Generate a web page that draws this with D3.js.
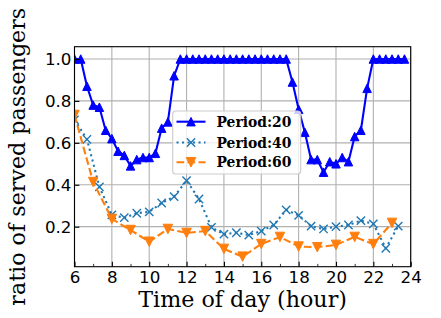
<!DOCTYPE html>
<html><head><meta charset="utf-8">
<script src="https://cdn.jsdelivr.net/npm/d3@7"></script>
<style>body{margin:0;background:#fff}svg{display:block}</style>
</head><body><div id="chart"></div>
<script>
const hours20 = [6,6.333,6.667,7,7.333,7.667,8,8.333,8.667,9,9.333,9.667,10,10.333,10.667,11,11.333,11.667,
  12,12.333,12.667,13,13.333,13.667,14,14.333,14.667,15,15.333,15.667,16,16.333,16.667,17,17.333,
  17.667,18,18.333,18.667,19,19.333,19.667,20,20.333,20.667,21,21.333,21.667,22,22.333,22.667,23,23.333,23.667];
const period20 = [1.0,1.0,0.87,0.78,0.77,0.66,0.62,0.56,0.54,0.49,0.52,0.53,0.53,0.55,0.67,0.70,0.92,1.0,
  1.0,1.0,1.0,1.0,1.0,1.0,1.0,1.0,1.0,1.0,1.0,1.0,1.0,1.0,1.0,1.0,1.0,
  0.89,0.76,0.65,0.52,0.52,0.46,0.51,0.50,0.53,0.51,0.63,0.66,0.86,1.0,1.0,1.0,1.0,1.0,1.0];
const hours40 = [6,6.667,7.333,8,8.667,9.333,10,10.667,11.333,12,12.667,13.333,14,14.667,15.333,16,16.667,17.333,
  18,18.667,19.333,20,20.667,21.333,22,22.667,23.333];
const period40 = [0.71,0.617,0.39,0.256,0.243,0.264,0.271,0.313,0.343,0.42,0.332,0.197,0.164,0.171,0.16,0.179,0.208,0.28,
  0.254,0.203,0.189,0.20,0.208,0.229,0.213,0.097,0.203];
const hours60 = [6,7,8,9,10,11,12,13,14,15,16,17,18,19,20,21,22,23];
const period60 = [0.733,0.413,0.237,0.184,0.128,0.189,0.17,0.179,0.094,0.057,0.117,0.151,0.105,0.102,0.113,0.151,0.117,0.218];
const xTicks = [6,8,10,12,14,16,18,20,22,24];
const xMinorTicks = [7,9,11,13,15,17,19,21,23];
const yTicks = [0.2,0.4,0.6,0.8,1.0];
const seriesNames = ["Period:20","Period:40","Period:60"];

const W = 441, H = 318;
const L = 74.5, R = 410.7, T = 46.7, B = 266.7;
const x = d3.scaleLinear().domain([6,24]).range([L,R]);
const y = d3.scaleLinear().domain([0.009,1.0587]).range([B,T]);

const svg = d3.select("#chart").append("svg").attr("width",W).attr("height",H);
svg.append("defs").append("clipPath").attr("id","clip")
  .append("rect").attr("x",L).attr("y",T).attr("width",R-L).attr("height",B-T);

// grid
const grid = svg.append("g").attr("stroke","#b0b0b0").attr("stroke-width",1.1);
xTicks.forEach(t=>grid.append("line").attr("x1",x(t)).attr("x2",x(t)).attr("y1",T).attr("y2",B));
yTicks.forEach(t=>grid.append("line").attr("y1",y(t)).attr("y2",y(t)).attr("x1",L).attr("x2",R));

const series = [
  {name:seriesNames[0], xs:hours20, ys:period20, color:"#0000ff", dash:null, marker:"up", ms:8.5},
  {name:seriesNames[1], xs:hours40, ys:period40, color:"#1f77b4", dash:"2.1,3.4", marker:"x", ms:8.3},
  {name:seriesNames[2], xs:hours60, ys:period60, color:"#ff7f0e", dash:"7.7,3.3", marker:"down", ms:9.5}
];

function markerPath(type, s){
  const h = s/2;
  if(type==="up") return `M0,${-h}L${h},${h}L${-h},${h}Z`;
  if(type==="down") return `M0,${h}L${h},${-h}L${-h},${-h}Z`;
  return `M${-h},${-h}L${h},${h}M${-h},${h}L${h},${-h}`;
}
function drawMarker(g, type, s, color, cx, cy){
  const p = g.append("path").attr("d", markerPath(type,s)).attr("transform",`translate(${cx},${cy})`);
  if(type==="x") p.attr("fill","none").attr("stroke",color).attr("stroke-width",1.4);
  else p.attr("fill",color).attr("stroke",color).attr("stroke-width",1);
}

const plot = svg.append("g").attr("clip-path","url(#clip)");
series.forEach(s=>{
  const pts = s.xs.map((h,i)=>[h,s.ys[i]]);
  const line = d3.line().x(d=>x(d[0])).y(d=>y(d[1]));
  const p = plot.append("path").attr("d",line(pts)).attr("fill","none")
    .attr("stroke",s.color).attr("stroke-width",2.1).attr("stroke-linejoin","round");
  if(s.dash) p.attr("stroke-dasharray",s.dash);
  pts.forEach(d=>drawMarker(plot, s.marker, s.ms, s.color, x(d[0]), y(d[1])));
});

// spines
svg.append("rect").attr("x",L).attr("y",T).attr("width",R-L).attr("height",B-T)
  .attr("fill","none").attr("stroke","#000").attr("stroke-width",1.1);

// axes (ticks inward)
const xAxis = d3.axisBottom(x).tickValues(xTicks).tickFormat(d3.format("d")).tickSizeInner(-4.9).tickSizeOuter(0).tickPadding(4.8);
const gx = svg.append("g").attr("transform",`translate(0,${B})`).call(xAxis);
gx.select(".domain").remove();
gx.selectAll("line").attr("stroke","#000").attr("stroke-width",1.1);
gx.selectAll("text").attr("font-family","DejaVu Sans").attr("font-size",16.7).attr("fill","#000");
const xMinor = d3.axisBottom(x).tickValues(xMinorTicks).tickFormat("").tickSizeInner(-2.8).tickSizeOuter(0);
const gxm = svg.append("g").attr("transform",`translate(0,${B})`).call(xMinor);
gxm.select(".domain").remove();
gxm.selectAll("line").attr("stroke","#000").attr("stroke-width",0.8);

const yAxis = d3.axisLeft(y).tickValues(yTicks).tickFormat(d3.format(".1f")).tickSizeInner(-4.9).tickSizeOuter(0).tickPadding(3);
const gy = svg.append("g").attr("transform",`translate(${L},0)`).call(yAxis);
gy.select(".domain").remove();
gy.selectAll("line").attr("stroke","#000").attr("stroke-width",1.1);
gy.selectAll("text").attr("font-family","DejaVu Sans").attr("font-size",16.7).attr("fill","#000");

// labels
svg.append("text").attr("x",(L+R)/2).attr("y",306.5).attr("text-anchor","middle")
  .attr("font-family","DejaVu Serif").attr("font-size",22.2).text("Time of day (hour)");
svg.append("text").attr("transform",`translate(25,${(T+B)/2}) rotate(-90)`).attr("text-anchor","middle")
  .attr("font-family","DejaVu Serif").attr("font-size",22.2).text("ratio of served passengers");

// legend
const lg = svg.append("g");
lg.append("rect").attr("x",172.7).attr("y",111).attr("width",128).attr("height",63).attr("rx",3)
  .attr("fill","#fff").attr("fill-opacity",0.8).attr("stroke","#cccccc").attr("stroke-width",1.1);
const rowsY = [121.7,142.5,162.3];
series.forEach((s,i)=>{
  const ly = rowsY[i];
  const l = lg.append("line").attr("x1",176.5).attr("x2",205.5).attr("y1",ly).attr("y2",ly)
    .attr("stroke",s.color).attr("stroke-width",2.1);
  if(s.dash) l.attr("stroke-dasharray",s.dash);
  drawMarker(lg, s.marker, s.ms, s.color, 191, ly);
  lg.append("text").attr("x",216.5).attr("y",ly).attr("dy","0.36em")
    .attr("font-family","DejaVu Serif").attr("font-weight","bold").attr("font-size",13.9).text(s.name);
});
</script></body></html>
